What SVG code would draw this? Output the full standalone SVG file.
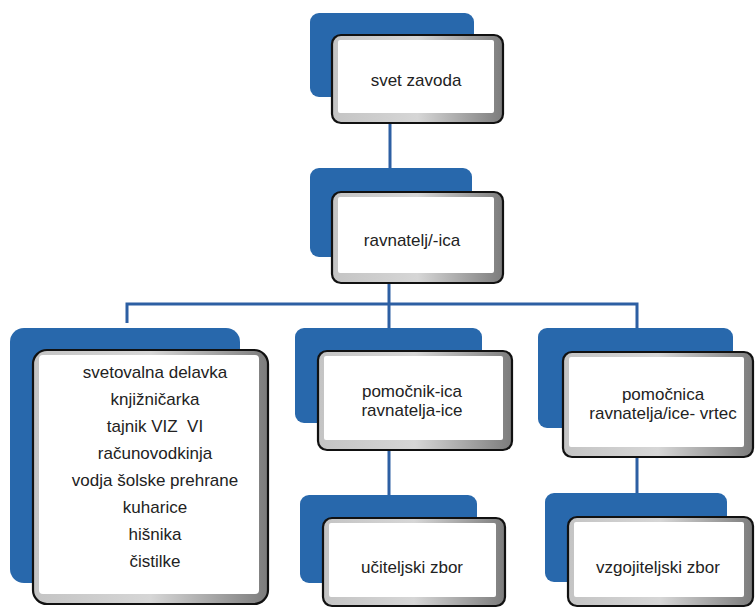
<svg xmlns="http://www.w3.org/2000/svg" width="755" height="608" viewBox="0 0 755 608">
<defs>
<linearGradient id="bev" x1="0" y1="0" x2="1" y2="0">
<stop offset="0" stop-color="#c4c4c4"/>
<stop offset="0.5" stop-color="#d6d6d6"/>
<stop offset="1" stop-color="#7c7c7c"/>
</linearGradient>
</defs>
<style>
.back{fill:#2868ac}
.bevel{fill:url(#bev);stroke:#111;stroke-width:2.2}
.face{fill:#fff}
.t{font-family:"Liberation Sans",Arial,sans-serif;font-size:17px;fill:#222;text-anchor:middle}
.conn{stroke:#2d5fa3;stroke-width:3;fill:none}
</style>
<rect width="755" height="608" fill="#fff"/>
<g id="connectors">
<line class="conn" x1="390" y1="123" x2="390" y2="192"/>
<line class="conn" x1="389" y1="283" x2="389" y2="304"/>
<polyline class="conn" points="127,323 127,304 637,304 637,328"/>
<line class="conn" x1="389" y1="304" x2="389" y2="328"/>
<line class="conn" x1="389" y1="450" x2="389" y2="495"/>
<line class="conn" x1="637" y1="457" x2="637" y2="493"/>
</g>
<g id="svet">
<rect class="back" x="310" y="13" width="164" height="84" rx="9"/>
<rect class="bevel" x="332" y="35" width="171" height="88" rx="9"/>
<rect class="face" x="338" y="40" width="156" height="73" rx="2"/>
<text class="t" x="416" y="86">svet zavoda</text>
</g>
<g id="ravnatelj">
<rect class="back" x="310" y="168" width="162" height="89" rx="9"/>
<rect class="bevel" x="332" y="192" width="171" height="91" rx="9"/>
<rect class="face" x="338" y="197" width="156" height="76" rx="2"/>
<text class="t" x="412" y="246">ravnatelj/-ica</text>
</g>
<g id="osebje">
<rect class="back" x="10" y="328" width="230" height="255" rx="14"/>
<rect class="bevel" x="33" y="350" width="235" height="254" rx="14"/>
<rect class="face" x="39" y="355" width="220" height="239" rx="4"/>
<text class="t" x="155" y="378">svetovalna delavka</text>
<text class="t" x="155" y="405">knjižničarka</text>
<text class="t" x="155" y="432">tajnik VIZ&#160; VI</text>
<text class="t" x="155" y="459">računovodkinja</text>
<text class="t" x="155" y="486">vodja šolske prehrane</text>
<text class="t" x="155" y="513">kuharice</text>
<text class="t" x="155" y="540">hišnika</text>
<text class="t" x="155" y="567">čistilke</text>
</g>
<g id="pomocnik">
<rect class="back" x="295" y="328" width="187" height="95" rx="9"/>
<rect class="bevel" x="318" y="351" width="194" height="99" rx="9"/>
<rect class="face" x="324" y="356" width="179" height="84" rx="2"/>
<text class="t" x="412" y="397">pomočnik-ica</text>
<text class="t" x="412" y="416">ravnatelja-ice</text>
</g>
<g id="pomocnica">
<rect class="back" x="538" y="328" width="195" height="100" rx="9"/>
<rect class="bevel" x="563" y="352" width="190" height="105" rx="9"/>
<rect class="face" x="569" y="357" width="175" height="90" rx="2"/>
<text class="t" x="663" y="400">pomočnica</text>
<text class="t" x="663" y="419">ravnatelja/ice- vrtec</text>
</g>
<g id="ucitelji">
<rect class="back" x="300" y="495" width="177" height="88" rx="9"/>
<rect class="bevel" x="323" y="518" width="182" height="88" rx="9"/>
<rect class="face" x="329" y="523" width="167" height="74" rx="2"/>
<text class="t" x="412" y="573">učiteljski zbor</text>
</g>
<g id="vzgojitelji">
<rect class="back" x="545" y="493" width="182" height="89" rx="9"/>
<rect class="bevel" x="568" y="517" width="185" height="89" rx="9"/>
<rect class="face" x="574" y="522" width="170" height="75" rx="2"/>
<text class="t" x="658" y="573">vzgojiteljski zbor</text>
</g>
</svg>
